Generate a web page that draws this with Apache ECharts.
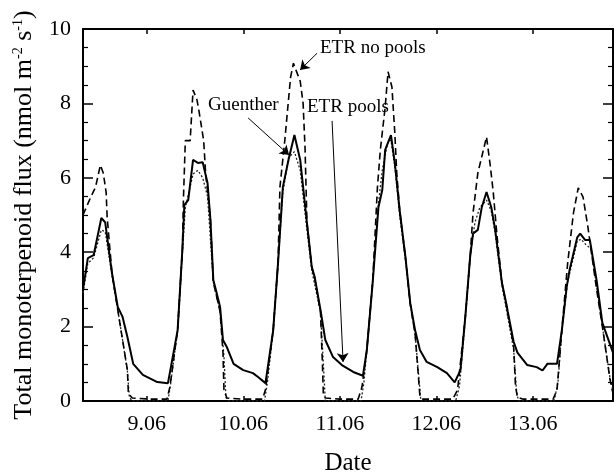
<!DOCTYPE html>
<html>
<head>
<meta charset="utf-8">
<script src="https://cdn.jsdelivr.net/npm/echarts@6/dist/echarts.min.js"></script>
<style>html,body{margin:0;padding:0;background:#fff}#c{width:614px;height:475px}</style>
</head>
<body>
<div id="c"></div>
<script>
// x = day of June (9.0 = 9.06 00:00)
const dayTicks = [9, 10, 11, 12, 13];
const dayLabels = ['9.06', '10.06', '11.06', '12.06', '13.06'];
const yTicks = [0, 2, 4, 6, 8, 10];

const etrPools = [
  [8.34,3.0],[8.39,3.84],[8.45,3.92],[8.53,4.92],[8.57,4.8],[8.64,3.44],[8.70,2.53],[8.75,2.26],
  [8.80,1.72],[8.86,1.0],[8.96,0.7],[9.11,0.51],[9.22,0.48],[9.32,1.9],[9.37,4.1],[9.39,5.27],
  [9.43,5.4],[9.48,6.48],[9.53,6.4],[9.58,6.42],[9.63,5.86],[9.66,4.87],[9.69,3.25],[9.72,2.95],
  [9.76,2.53],[9.79,1.64],[9.83,1.45],[9.90,1.0],[10.0,0.83],[10.10,0.75],[10.15,0.65],[10.23,0.48],
  [10.31,1.9],[10.36,3.7],[10.41,5.75],[10.47,6.5],[10.53,7.15],[10.59,6.48],[10.66,4.78],[10.71,3.6],
  [10.74,3.33],[10.80,2.45],[10.85,1.64],[10.93,1.18],[11.03,0.95],[11.14,0.78],[11.24,0.68],[11.28,1.37],
  [11.34,3.17],[11.40,5.2],[11.44,5.67],[11.47,6.75],[11.53,7.15],[11.57,6.4],[11.62,5.13],[11.68,3.87],
  [11.73,2.63],[11.78,1.9],[11.83,1.37],[11.90,1.05],[12.01,0.91],[12.11,0.75],[12.19,0.5],[12.25,0.83],
  [12.30,2.26],[12.35,3.87],[12.38,4.5],[12.43,4.6],[12.47,5.2],[12.52,5.62],[12.57,5.2],[12.61,4.6],
  [12.68,3.17],[12.73,2.55],[12.74,2.4],[12.80,1.6],[12.84,1.3],[12.94,0.97],[13.04,0.91],[13.10,0.82],
  [13.15,1.0],[13.25,1.0],[13.30,1.9],[13.35,3.06],[13.38,3.52],[13.46,4.4],[13.49,4.5],[13.54,4.33],
  [13.59,4.33],[13.66,3.25],[13.72,2.1],[13.83,1.3]
];

const etrNoPools = [
  [8.34,5.0],[8.42,5.48],[8.47,5.75],[8.52,6.34],[8.55,6.13],[8.58,5.6],[8.59,4.95],[8.64,3.44],
  [8.70,2.45],[8.75,1.64],[8.80,0.83],[8.81,0.2],[8.85,0.08],[9.05,0.05],[9.21,0.05],[9.24,0.38],
  [9.32,1.9],[9.37,4.1],[9.38,5.4],[9.40,7.0],[9.45,7.0],[9.48,8.36],[9.52,8.1],[9.54,7.82],
  [9.59,7.0],[9.61,6.13],[9.64,5.4],[9.66,4.87],[9.69,3.2],[9.76,2.4],[9.79,1.3],[9.80,0.3],
  [9.83,0.08],[10.0,0.05],[10.2,0.05],[10.23,0.3],[10.31,1.9],[10.36,3.7],[10.38,5.75],[10.43,7.0],
  [10.49,8.7],[10.52,9.08],[10.56,8.8],[10.59,8.6],[10.62,8.0],[10.64,6.8],[10.66,4.78],[10.71,3.6],
  [10.74,3.3],[10.80,2.4],[10.82,1.0],[10.83,0.16],[10.85,0.08],[11.0,0.05],[11.19,0.05],[11.23,0.38],
  [11.28,1.37],[11.34,3.17],[11.39,5.75],[11.42,6.75],[11.47,7.9],[11.50,8.85],[11.54,8.44],[11.57,7.2],
  [11.59,6.13],[11.62,5.13],[11.68,3.87],[11.73,2.6],[11.78,1.8],[11.81,0.8],[11.83,0.12],[11.86,0.05],
  [12.17,0.05],[12.22,0.3],[12.30,2.26],[12.35,3.87],[12.38,5.05],[12.43,6.13],[12.47,6.56],[12.52,7.1],
  [12.56,6.3],[12.59,5.6],[12.63,4.4],[12.68,3.17],[12.73,2.5],[12.80,1.5],[12.82,0.4],[12.84,0.1],
  [12.90,0.05],[13.21,0.05],[13.25,0.3],[13.30,1.9],[13.36,3.7],[13.42,5.05],[13.47,5.73],[13.52,5.48],
  [13.57,4.68],[13.66,3.0],[13.72,2.0],[13.80,0.56],[13.83,0.2]
];

const guenther = [
  [8.34,2.9],[8.39,3.7],[8.45,3.85],[8.53,4.6],[8.57,4.55],[8.64,3.4],[8.70,2.45],[8.75,1.64],
  [8.80,0.8],[8.82,0.1],[8.85,0],[9.22,0],[9.25,0.5],[9.32,1.9],[9.37,4.0],[9.40,5.2],
  [9.48,6.1],[9.53,6.2],[9.58,6.0],[9.63,5.5],[9.69,3.2],[9.76,2.4],[9.80,1.2],[9.82,0.1],
  [9.85,0],[10.22,0],[10.25,0.5],[10.31,1.9],[10.36,3.7],[10.41,5.6],[10.47,6.55],[10.53,6.7],
  [10.59,6.2],[10.66,4.6],[10.71,3.5],[10.80,2.4],[10.83,1.0],[10.85,0],[11.22,0],[11.25,0.5],
  [11.28,1.37],[11.34,3.2],[11.40,5.3],[11.44,6.2],[11.50,7.0],[11.53,7.0],[11.57,6.3],[11.62,5.0],
  [11.68,3.8],[11.73,2.6],[11.78,1.8],[11.82,0.6],[11.84,0],[12.20,0],[12.24,0.4],[12.30,2.2],
  [12.35,3.9],[12.40,4.8],[12.45,5.2],[12.52,5.4],[12.57,5.1],[12.61,4.5],[12.68,3.1],[12.73,2.4],
  [12.80,1.4],[12.83,0.3],[12.85,0],[13.22,0],[13.26,0.5],[13.30,1.9],[13.36,3.2],[13.46,4.3],
  [13.50,4.35],[13.55,4.2],[13.60,4.1],[13.66,3.1],[13.72,2.0],[13.80,0.6],[13.83,0.3]
];

// annotation arrows in data coords [start, end]
const arrowGuenther = [[10.05, 7.61], [10.475, 6.61]];
const arrowNoPools = [[10.765, 9.35], [10.589, 8.9]];
const arrowPools = [[10.92, 7.53], [11.034, 1.05]];

const FONT = '"Liberation Serif", "Times New Roman", serif';
const chart = echarts.init(document.getElementById('c'), null, {renderer: 'canvas'});

const xBase = {
  type: 'value', min: 8.34, max: 13.83,
  axisLine: {show: true, onZero: false, lineStyle: {color: '#000', width: 2}},
  splitLine: {show: false}
};
const yBase = {
  type: 'value', min: 0, max: 10, interval: 2,
  axisLine: {show: true, onZero: false, lineStyle: {color: '#000', width: 2}},
  axisTick: {show: true, inside: true, length: 10, lineStyle: {color: '#000', width: 1.5}},
  minorTick: {show: true, splitNumber: 4, length: 5, lineStyle: {color: '#000', width: 1.2}},
  splitLine: {show: false}
};

function arrowLine(a) {
  return [{coord: a[0], symbol: 'none'}, {coord: a[1], symbol: 'arrow'}];
}

chart.setOption({
  animation: false,
  backgroundColor: '#fff',
  grid: {left: 83, right: 1, top: 29, bottom: 74, containLabel: false, outerBoundsMode: 'none'},
  xAxis: [
    Object.assign({}, xBase, {
      position: 'bottom',
      name: 'Date', nameLocation: 'middle', nameGap: 50,
      nameTextStyle: {fontFamily: FONT, fontSize: 25, color: '#000'},
      axisTick: {show: true, inside: true, length: 5, customValues: dayTicks, lineStyle: {color: '#000', width: 1.5}},
      axisLabel: {show: true, customValues: dayTicks, margin: 12, fontFamily: FONT, fontSize: 22, color: '#000',
        formatter: v => dayLabels[dayTicks.indexOf(Math.round(v))] || ''}
    }),
    Object.assign({}, xBase, {
      position: 'top',
      axisTick: {show: true, inside: true, length: 5, customValues: dayTicks, lineStyle: {color: '#000', width: 1.5}},
      axisLabel: {show: false}
    })
  ],
  yAxis: [
    Object.assign({}, yBase, {
      position: 'left',
      name: 'Total monoterpenoid flux (nmol m{sup|-2} s{sup|-1})',
      nameLocation: 'middle', nameGap: 46,
      nameTextStyle: {fontFamily: FONT, fontSize: 26, color: '#000',
        rich: {sup: {fontFamily: FONT, fontSize: 14, color: '#000', verticalAlign: 'top', padding: [0, 0, 12, 0]}}},
      axisLabel: {show: true, margin: 12, fontFamily: FONT, fontSize: 22, color: '#000'}
    }),
    Object.assign({}, yBase, {
      position: 'right',
      axisLabel: {show: false}
    })
  ],
  graphic: [
    {type: 'text', left: 208, top: 96, style: {text: 'Guenther', font: '19px ' + FONT, fill: '#000'}},
    {type: 'text', left: 320, top: 39, style: {text: 'ETR no pools', font: '19px ' + FONT, fill: '#000'}},
    {type: 'text', left: 307, top: 98, style: {text: 'ETR pools', font: '19px ' + FONT, fill: '#000'}}
  ],
  series: [
    {
      name: 'Guenther', type: 'line', data: guenther, showSymbol: false, z: 2,
      lineStyle: {color: '#222', width: 1.3, type: [2, 2]},
      markLine: {
        silent: true, symbolSize: 9, label: {show: false},
        lineStyle: {color: '#000', width: 1, type: 'solid'},
        data: [arrowLine(arrowGuenther), arrowLine(arrowNoPools), arrowLine(arrowPools)]
      }
    },
    {
      name: 'ETR no pools', type: 'line', data: etrNoPools, showSymbol: false, z: 3,
      lineStyle: {color: '#000', width: 1.6, type: [7, 4]}
    },
    {
      name: 'ETR pools', type: 'line', data: etrPools, showSymbol: false, z: 4,
      lineStyle: {color: '#000', width: 2}
    }
  ]
});
</script>
</body>
</html>
